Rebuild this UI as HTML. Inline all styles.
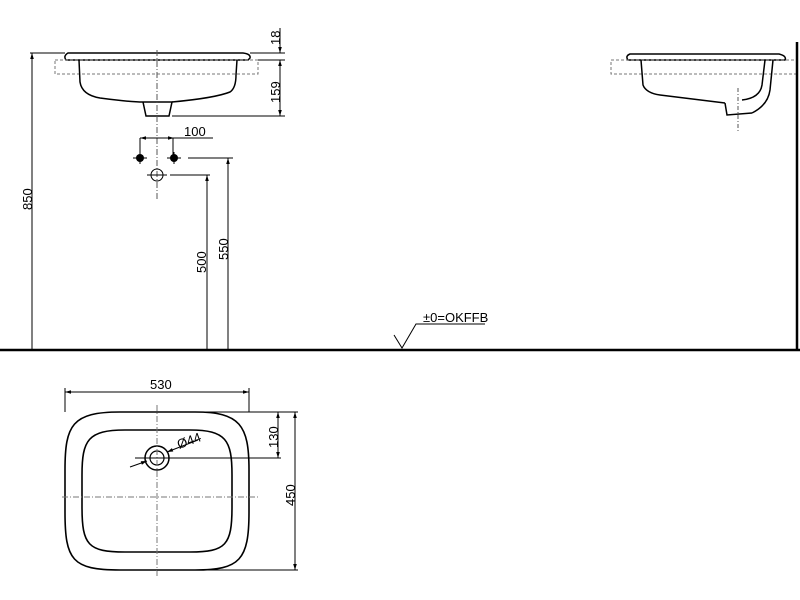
<!DOCTYPE html>
<html><head><meta charset="utf-8"><style>body{margin:0;background:#fff}svg{display:block}text{font-family:"Liberation Sans",sans-serif;font-size:13px;fill:#000}</style></head><body>
<svg width="800" height="600" viewBox="0 0 800 600" xmlns="http://www.w3.org/2000/svg">
<defs><marker id="a" viewBox="0 0 10 10" refX="10" refY="5" markerWidth="8" markerHeight="6" orient="auto-start-reverse"><path d="M0,2 L10,5 L0,8z" fill="#000"/></marker></defs>
<g fill="none" stroke="#000" stroke-width="1">
<path d="M68,53 L243,53 Q251,54 250,58 L248,60 L66,60 Q63,56 68,53z" stroke-width="1.5"/>
<rect x="55" y="60" width="203" height="14" stroke="#777" stroke-dasharray="3,2"/>
<path d="M79,60 L80,82 Q82,95 100,98 Q130,102 143,102 M172,102 Q215,98 230,92 Q236,88 236,75 L237,60" stroke-width="1.5"/>
<path d="M143,102 L146,116 L169,116 L172,102 L143,102" stroke-width="1.5"/>
<path d="M157,50 V200" stroke="#555" stroke-dasharray="6,2,1,2"/>
<path d="M250,53 H285 M258,60 H285 M172,116 H285"/>
<path d="M280,28 V53" marker-end="url(#a)"/>
<path d="M280,60 V116" marker-start="url(#a)" marker-end="url(#a)"/>
<path d="M30,53 H65"/>
<path d="M32,350 V53" marker-end="url(#a)"/>
<path d="M140,138 H174" marker-start="url(#a)" marker-end="url(#a)"/>
<path d="M174,138 H213 M140,138 V155 M173,138 V155"/>
<path d="M133,158 H147 M167,158 H181 M140,152 V164 M174,152 V164"/>
<circle cx="157" cy="175" r="6"/>
<path d="M147,175 H167 M170,175 H210 M188,158 H233"/>
<path d="M207,350 V175" marker-end="url(#a)"/>
<path d="M228,350 V158" marker-end="url(#a)"/>
<path d="M630,54 L779,54 Q787,56 785,60 L628,60 Q625,56 630,54z" stroke-width="1.5"/>
<rect x="611" y="60" width="186" height="14" stroke="#777" stroke-dasharray="3,2"/>
<path d="M641,60 L643,85 Q646,93 660,95 Q700,100 725,103 M752,113 Q768,105 770,90 L773,60 M765,60 L762,85 Q760,98 742,100" stroke-width="1.5"/>
<path d="M725,103 L727,115 L752,113" stroke-width="1.5"/>
<path d="M738,88 V132" stroke="#555" stroke-dasharray="4,2,1,2"/>
<path d="M0,350 H800" stroke-width="2.5"/>
<path d="M797,42 V350" stroke-width="2.5"/>
<path d="M394,335 L402,348 L416,324 H485"/>
<path d="M120,412 H195 C240,412 249,425 249,470 V512 C249,560 240,570 195,570 H120 C72,570 65,560 65,512 V470 C65,425 72,412 120,412z" stroke-width="1.6"/>
<path d="M125,430 H190 C226,430 232,440 232,475 V507 C232,545 226,552 190,552 H125 C88,552 82,545 82,507 V475 C82,440 88,430 125,430z" stroke-width="1.6"/>
<circle cx="157" cy="458" r="12" stroke-width="1.5"/>
<circle cx="157" cy="458" r="7" stroke-width="1.2"/>
<path d="M62,497 H258 M157,405 V578" stroke="#777" stroke-dasharray="6,2,1,2"/>
<path d="M65,412 V388 M249,412 V388"/>
<path d="M65,392 H249" marker-start="url(#a)" marker-end="url(#a)"/>
<path d="M180,412 H298 M135,458 H281 M157,570 H298"/>
<path d="M278,412 V458" marker-start="url(#a)" marker-end="url(#a)"/>
<path d="M295,412 V570" marker-start="url(#a)" marker-end="url(#a)"/>
<path d="M130,467 L147,461" marker-end="url(#a)"/>
<path d="M198,440 L167,452" marker-end="url(#a)"/>
</g>
<g>
<circle cx="140" cy="158" r="4"/><circle cx="174" cy="158" r="4"/>
<text transform="translate(280,45) rotate(-90)">18</text>
<text transform="translate(280,103) rotate(-90)">159</text>
<text transform="translate(32,210) rotate(-90)">850</text>
<text x="184" y="136">100</text>
<text transform="translate(206,273) rotate(-90)">500</text>
<text transform="translate(228,260) rotate(-90)">550</text>
<text x="423" y="322">±0=OKFFB</text>
<text x="150" y="389">530</text>
<text transform="translate(278,448) rotate(-90)">130</text>
<text transform="translate(295,506) rotate(-90)">450</text>
<text transform="translate(179,449) rotate(-20)">Ø44</text>
</g>
</svg>
</body></html>
